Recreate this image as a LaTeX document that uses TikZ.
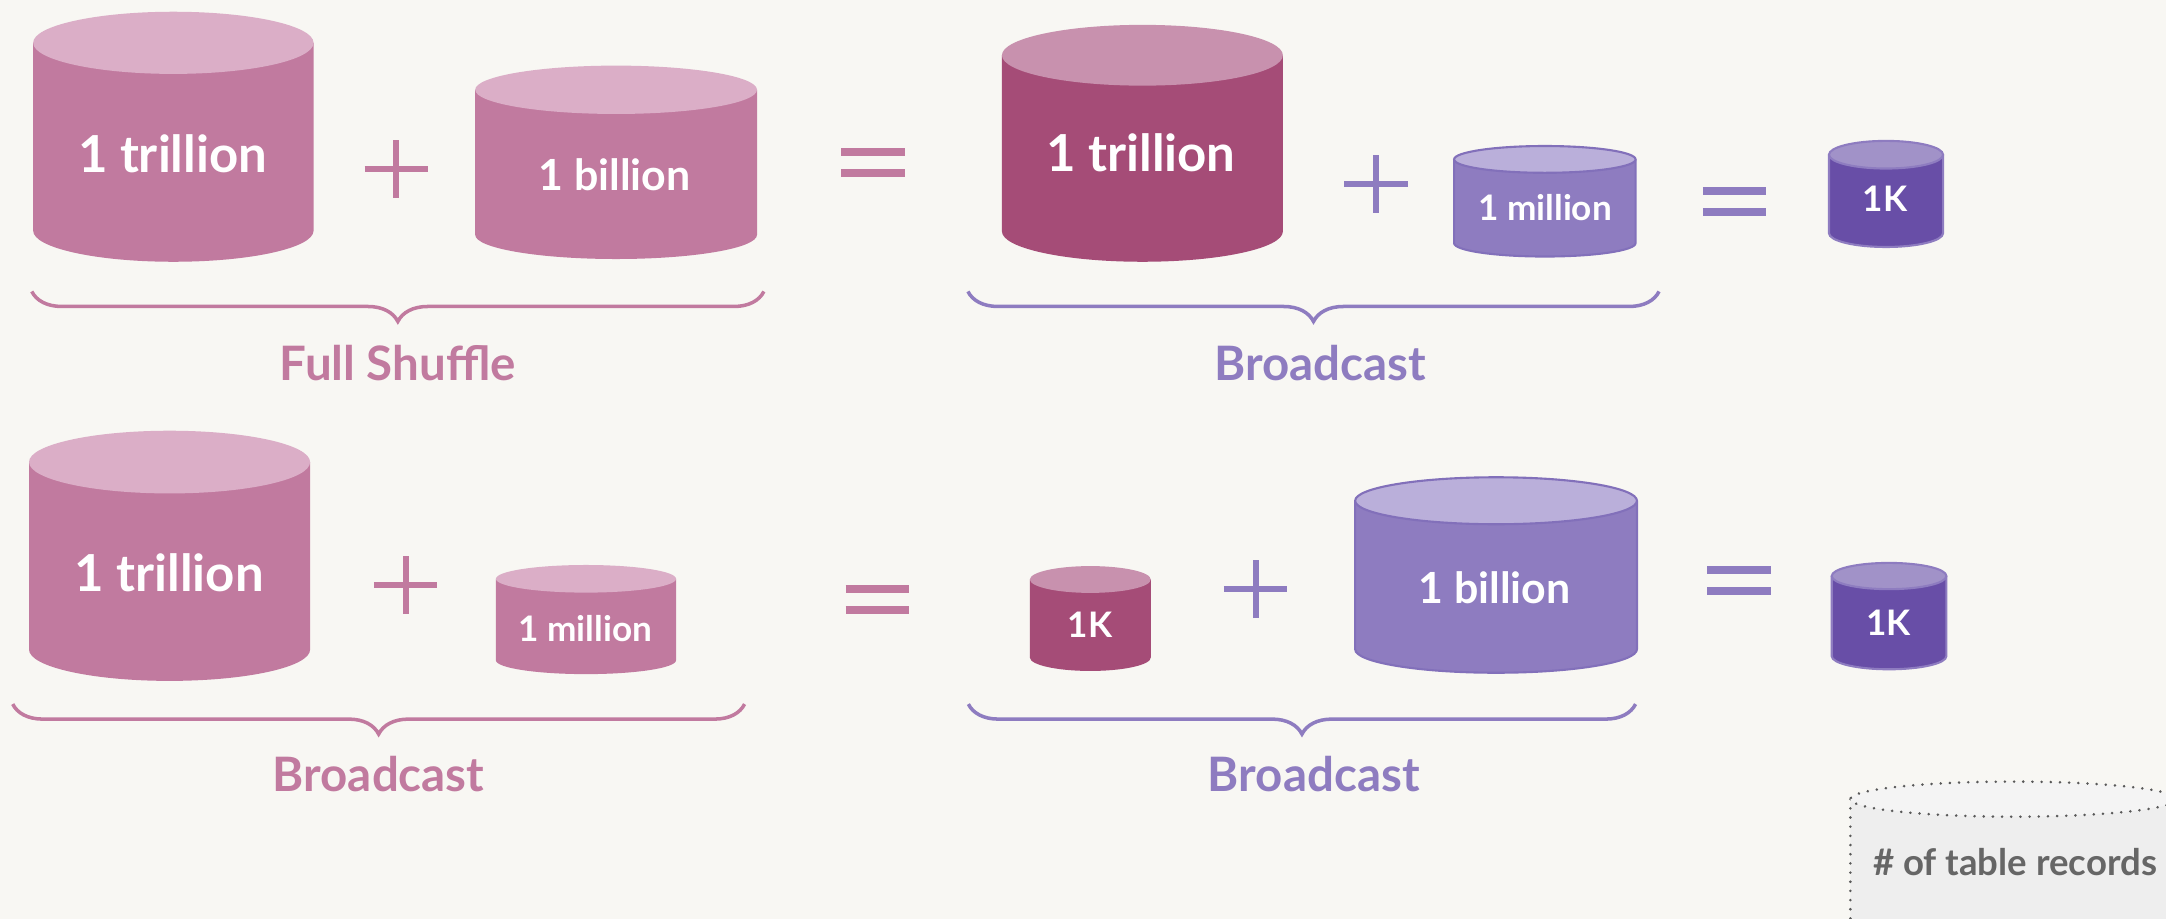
\documentclass[tikz,border=0pt]{standalone}
\usepackage{fontspec}
\setmainfont{Lato}
\usetikzlibrary{decorations.pathreplacing}

\definecolor{paper}{HTML}{F8F7F3}
\definecolor{roseside}{HTML}{C17A9F}
\definecolor{rosetop}{HTML}{DBAEC7}
\definecolor{plumside}{HTML}{A54C77}
\definecolor{plumtop}{HTML}{C891AE}
\definecolor{lavside}{HTML}{8E7CC0}
\definecolor{lavtop}{HTML}{BAAFDA}
\definecolor{lavedge}{HTML}{8270BA}
\definecolor{violetside}{HTML}{684EA7}
\definecolor{violettop}{HTML}{A192C8}
\definecolor{greyside}{HTML}{EEEEEE}
\definecolor{greytop}{HTML}{F4F4F4}
\definecolor{legendink}{HTML}{666666}

% one table drawn as a can: kind, centre x, top y, bottom y, x radius, y radius
\newcommand{\tablecan}[6]{%
  \fill[#1side] (#2-#5,#3) -- (#2-#5,#4) arc[start angle=180, end angle=360, x radius=#5, y radius=#6] -- (#2+#5,#3) -- cycle;
  \draw[#1rim] (#2-#5,#3) -- (#2-#5,#4) arc[start angle=180, end angle=360, x radius=#5, y radius=#6] -- (#2+#5,#3);
  \fill[#1top] (#2,#3) ellipse[x radius=#5, y radius=#6];
  \draw[#1rim] (#2,#3) ellipse[x radius=#5, y radius=#6];}
% plus and equals signs: colour, centre x, centre y
\newcommand{\plussign}[3]{%
  \draw[opbar, #1] (#2-23,#3) -- (#2+23,#3);
  \draw[opbar, #1] (#2,#3-21) -- (#2,#3+21);}
\newcommand{\equalsign}[3]{%
  \draw[eqbar, #1] (#2-23,#3+7.6) -- (#2+23,#3+7.6);
  \draw[eqbar, #1] (#2-23,#3-7.6) -- (#2+23,#3-7.6);}

\begin{document}
\begin{tikzpicture}[x=0.013814cm, y=0.013814cm,
  roserim/.style={draw=none}, plumrim/.style={draw=none},
  lavrim/.style={draw=lavedge, line width=0.6pt},
  violetrim/.style={draw=lavside, line width=0.6pt},
  greyrim/.style={draw=black!65, line width=0.8pt, dash pattern=on 0.01pt off 2.6pt, line cap=round},
  opbar/.style={line width=1.7pt},
  eqbar/.style={line width=2.3pt},
  cantext/.style={text=white, inner sep=0pt, font=\bfseries\fontsize{14.5}{17}\selectfont},
  midtext/.style={cantext, font=\bfseries\fontsize{12.2}{14}\selectfont},
  smalltext/.style={cantext, font=\bfseries\fontsize{10}{12}\selectfont},
  caption/.style={inner sep=0pt, font=\bfseries\fontsize{13.5}{16}\selectfont},
  brc/.style={line width=1pt, decorate, decoration={brace, mirror, amplitude=0.3cm}}]
  \clip (0,0) rectangle (1568,-665);
  \fill[paper] (0,0) rectangle (1568,-665);

  % top row: full shuffle, then broadcast
  \tablecan{rose}{125.5}{-31}{-167}{101.5}{22.5}
  \node[cantext] (trilA) at (125,-111) {1 trillion};
  \plussign{roseside}{287}{-122}
  \tablecan{rose}{446}{-65}{-170}{102}{17.5}
  \node[midtext] (bilA) at (445,-126.7) {1 billion};
  \equalsign{roseside}{632}{-117.7}
  \tablecan{plum}{827}{-40}{-167.5}{101.7}{22}
  \node[cantext] (trilB) at (826,-110.5) {1 trillion};
  \plussign{lavside}{996}{-133}
  \tablecan{lav}{1118.3}{-115.4}{-176}{65.7}{9.7}
  \node[smalltext] (milA) at (1118.5,-150) {1 million};
  \equalsign{lavside}{1255.7}{-146}
  \tablecan{violet}{1365.3}{-112}{-168.8}{41.3}{10}
  \node[smalltext] (kA) at (1364.6,-144) {1K};

  \coordinate (fsL) at (23,-211);
  \coordinate (fsR) at (553,-211);
  \draw[brc, roseside] (fsL) -- (fsR);
  \node[caption, text=roseside] (fs) at (288,-262.5) {Full Shuffle};
  \coordinate (bcaL) at (700.7,-211);
  \coordinate (bcaR) at (1201,-211);
  \draw[brc, lavside] (bcaL) -- (bcaR);
  \node[caption, text=lavside] (bca) at (955.6,-263) {Broadcast};

  % bottom row: broadcast twice
  \tablecan{rose}{122.75}{-334.5}{-470.2}{101.75}{22.7}
  \node[cantext] (trilC) at (122.4,-414.3) {1 trillion};
  \plussign{roseside}{293.6}{-423.2}
  \tablecan{rose}{424.2}{-419}{-478}{65.2}{10}
  \node[smalltext] (milB) at (423.7,-454.7) {1 million};
  \equalsign{roseside}{635.2}{-434}
  \tablecan{plum}{789.3}{-419.5}{-476}{43.75}{9.7}
  \node[smalltext] (kB) at (789,-452.5) {1K};
  \plussign{lavside}{909}{-426.5}
  \tablecan{lav}{1083}{-362.5}{-470}{102}{17}
  \node[midtext] (bilB) at (1082,-425.8) {1 billion};
  \equalsign{lavside}{1259}{-420.2}
  \tablecan{violet}{1367.5}{-417}{-475}{41.5}{9.5}
  \node[smalltext] (kC) at (1367,-451) {1K};

  \coordinate (bcbL) at (9.2,-509.7);
  \coordinate (bcbR) at (539,-509.7);
  \draw[brc, roseside] (bcbL) -- (bcbR);
  \node[caption, text=roseside] (bcb) at (274,-560.5) {Broadcast};
  \coordinate (bccL) at (701,-509.7);
  \coordinate (bccR) at (1184,-509.7);
  \draw[brc, lavside] (bccL) -- (bccR);
  \node[caption, text=lavside] (bcc) at (951,-560) {Broadcast};

  % legend
  \tablecan{grey}{1457.5}{-578.5}{-668}{118}{12.7}
  \node[inner sep=0pt, text=legendink, font=\bfseries\fontsize{10.4}{12}\selectfont] (legend) at (1458.7,-624) {\# of table records};
\end{tikzpicture}
\end{document}
